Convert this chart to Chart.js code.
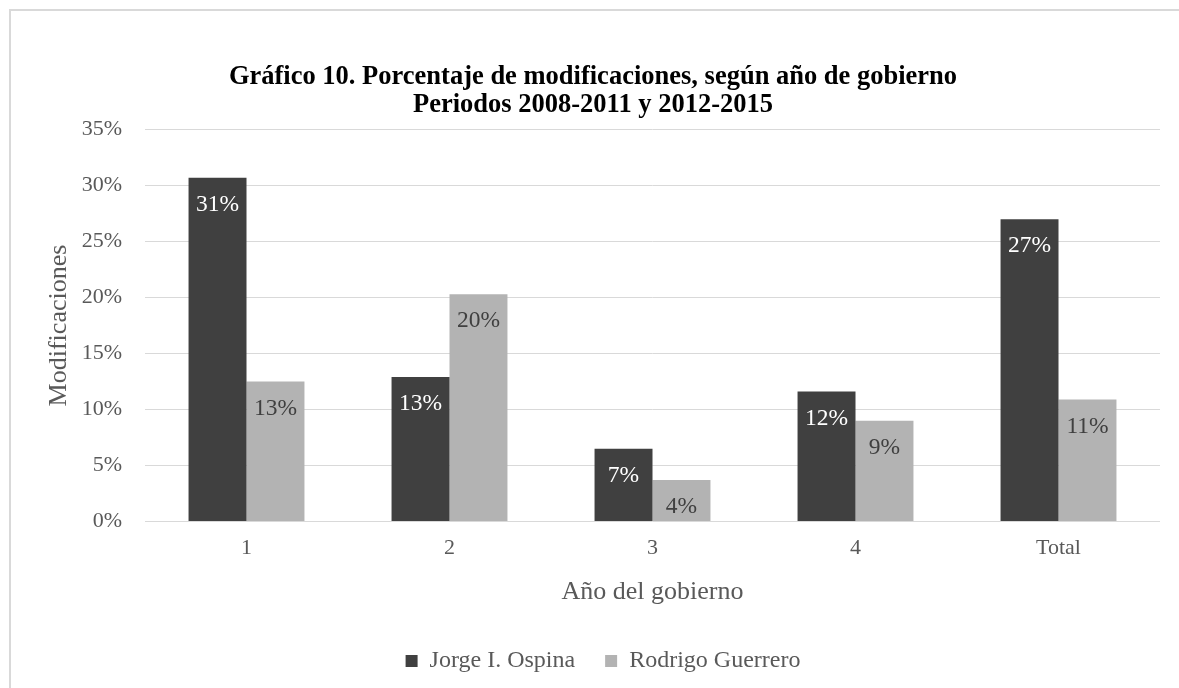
<!DOCTYPE html>
<html>
<head>
<meta charset="utf-8">
<script src="https://cdn.jsdelivr.net/npm/chart.js@4/dist/chart.umd.min.js"></script>
<style>
  html, body { margin: 0; padding: 0; background: #ffffff; overflow: hidden; }
  #wrap { width: 1179px; height: 688px; }
</style>
</head>
<body>
<div id="wrap"><canvas id="c" width="1179" height="688"></canvas></div>
<script>
// Año de gobierno
const categories = ['1', '2', '3', '4', 'Total'];
// Porcentaje de modificaciones por alcalde
const ospina = [30.7, 12.9, 6.5, 11.6, 27.0];
const guerrero = [12.5, 20.3, 3.7, 9.0, 10.9];
const seriesNames = ['Jorge I. Ospina', 'Rodrigo Guerrero'];
const yTicks = [0, 5, 10, 15, 20, 25, 30, 35];

const SERIF = '"Liberation Serif", "Times New Roman", serif';
const barColors = ['#404040', '#b3b3b3'];
const labelColors = ['#ffffff', '#404040'];

// Marco gris claro alrededor del gráfico
const frame = {
  id: 'frame',
  beforeDraw(chart) {
    const ctx = chart.ctx;
    ctx.save();
    ctx.fillStyle = '#ffffff';
    ctx.fillRect(0, 0, chart.width, chart.height);
    ctx.strokeStyle = '#d9d9d9';
    ctx.lineWidth = 2;
    ctx.strokeRect(10, 10, chart.width + 20, chart.height + 20);
    ctx.restore();
  }
};

// Centra título y leyenda sobre el lienzo completo
const centerBlocks = {
  id: 'centerBlocks',
  afterLayout(chart) {
    if (chart.titleBlock) {
      chart.titleBlock.left = 7;
      chart.titleBlock.right = chart.width;
    }
    if (chart.legend) {
      chart.legend.left += 23;
      chart.legend.right += 23;
    }
  }
};

// Etiquetas de valor dentro de cada barra
const barLabels = {
  id: 'barLabels',
  afterDatasetsDraw(chart) {
    const ctx = chart.ctx;
    ctx.save();
    ctx.font = '23.5px ' + SERIF;
    ctx.textAlign = 'center';
    ctx.textBaseline = 'middle';
    chart.data.datasets.forEach((ds, i) => {
      const meta = chart.getDatasetMeta(i);
      meta.data.forEach((bar, j) => {
        ctx.fillStyle = labelColors[i];
        ctx.fillText(Math.round(ds.data[j]) + '%', bar.x, bar.y + 27);
      });
    });
    ctx.restore();
  }
};

new Chart(document.getElementById('c'), {
  type: 'bar',
  data: {
    labels: categories,
    datasets: [
      { label: seriesNames[0], data: ospina, backgroundColor: barColors[0] },
      { label: seriesNames[1], data: guerrero, backgroundColor: barColors[1] }
    ]
  },
  options: {
    responsive: false,
    animation: false,
    devicePixelRatio: 1,
    layout: { padding: { left: 0, right: 19, top: 0, bottom: 5 } },
    datasets: { bar: { categoryPercentage: 0.571, barPercentage: 1.0 } },
    plugins: {
      title: {
        display: true,
        text: ['Gráfico 10. Porcentaje de modificaciones, según año de gobierno', 'Periodos 2008-2011 y 2012-2015'],
        color: '#000000',
        font: { family: SERIF, size: 26.5, weight: 'bold', lineHeight: 1.05 },
        padding: { top: 63, bottom: 11 }
      },
      legend: {
        position: 'bottom',
        labels: {
          color: '#595959',
          font: { family: SERIF, size: 24 },
          boxWidth: 12,
          boxHeight: 12,
          padding: 30
        }
      },
      tooltip: { enabled: false }
    },
    scales: {
      x: {
        grid: { display: false },
        border: { display: false },
        ticks: { color: '#595959', font: { family: SERIF, size: 22 }, padding: 6 },
        title: {
          display: true,
          text: 'Año del gobierno',
          color: '#595959',
          font: { family: SERIF, size: 26 },
          padding: { top: 9, bottom: 11 }
        }
      },
      y: {
        min: 0,
        max: 35,
        afterBuildTicks(scale) { scale.ticks = yTicks.map(v => ({ value: v })); },
        afterFit(scale) { scale.width = 145; },
        grid: { color: '#d9d9d9', lineWidth: 1, drawTicks: false },
        border: { display: false },
        ticks: {
          color: '#595959',
          font: { family: SERIF, size: 22 },
          padding: 23,
          callback: v => v + '%'
        },
        title: {
          display: true,
          text: 'Modificaciones',
          color: '#595959',
          font: { family: SERIF, size: 26 },
          padding: { top: 44, bottom: 0 }
        }
      }
    }
  },
  plugins: [frame, centerBlocks, barLabels]
});
</script>
</body>
</html>
